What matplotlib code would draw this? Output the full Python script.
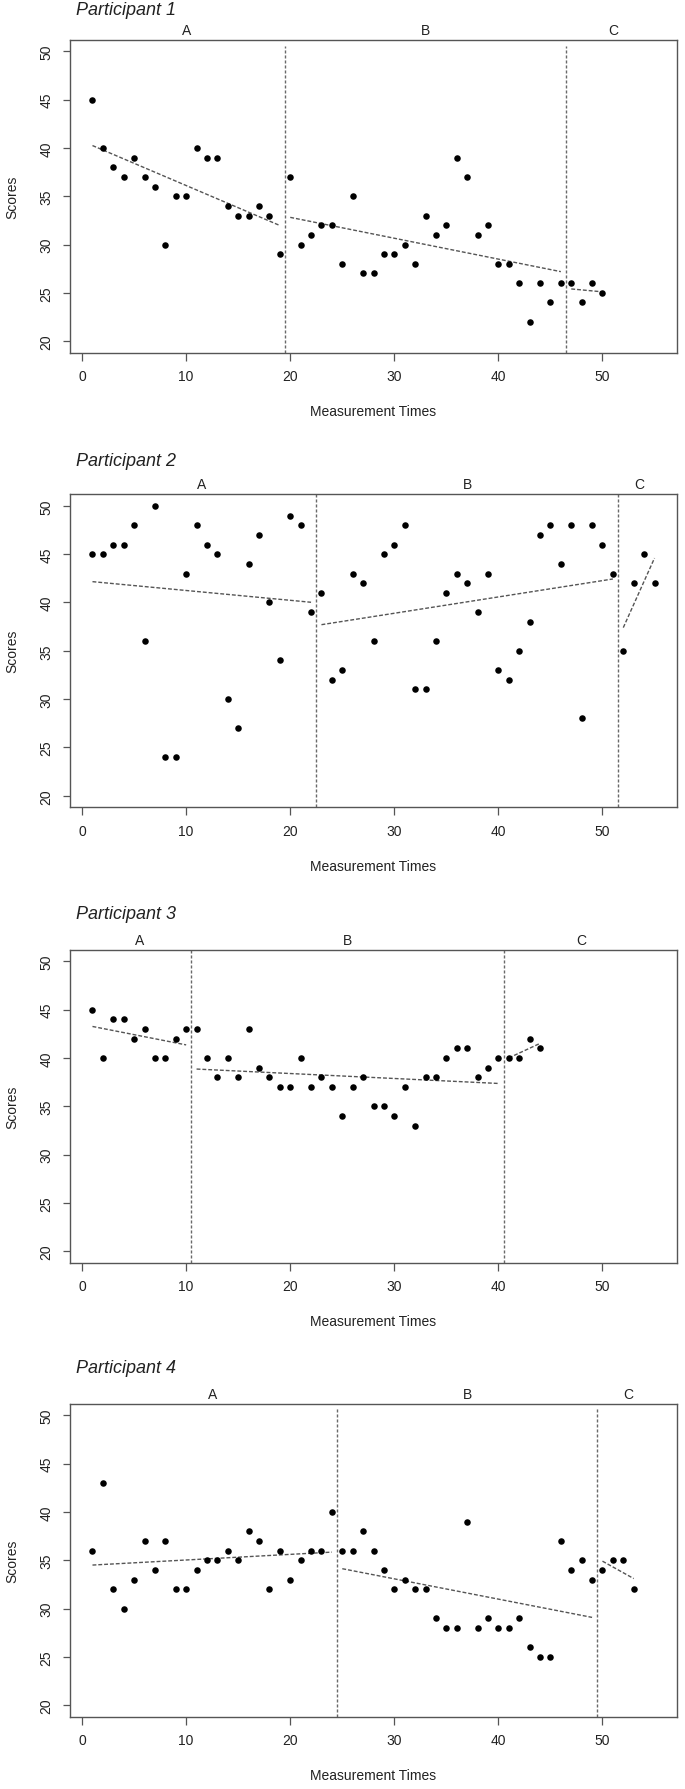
import numpy as np
import matplotlib
matplotlib.use('Agg')
import matplotlib.pyplot as plt

plt.rcParams['font.family'] = ['Liberation Sans', 'DejaVu Sans']

# scores per participant, one value per measurement time (1, 2, 3, ...)
p1_scores = [45, 40, 38, 37, 39, 37, 36, 30, 35, 35, 40, 39, 39, 34, 33, 33, 34, 33, 29,
             37, 30, 31, 32, 32, 28, 35, 27, 27, 29, 29, 30, 28, 33, 31, 32, 39, 37, 31, 32,
             28, 28, 26, 22, 26, 24, 26, 26, 24, 26, 25]
p2_scores = [45, 45, 46, 46, 48, 36, 50, 24, 24, 43, 48, 46, 45, 30, 27, 44, 47, 40, 34, 49,
             48, 39, 41, 32, 33, 43, 42, 36, 45, 46, 48, 31, 31, 36, 41, 43, 42, 39, 43, 33,
             32, 35, 38, 47, 48, 44, 48, 28, 48, 46, 43, 35, 42, 45, 42]
p3_scores = [45, 40, 44, 44, 42, 43, 40, 40, 42, 43, 43, 40, 38, 40, 38, 43, 39, 38, 37, 37,
             40, 37, 38, 37, 34, 37, 38, 35, 35, 34, 37, 33, 38, 38, 40, 41, 41, 38, 39, 40,
             40, 40, 42, 41]
p4_scores = [36, 43, 32, 30, 33, 37, 34, 37, 32, 32, 34, 35, 35, 36, 35, 38, 37, 32, 36, 33,
             35, 36, 36, 40, 36, 36, 38, 36, 34, 32, 33, 32, 32, 29, 28, 28, 39, 28, 29, 28,
             28, 29, 26, 25, 25, 37, 34, 35, 33, 34, 35, 35, 32]

# phase change points (between measurement times)
p1_breaks = [19.5, 46.5]
p2_breaks = [22.5, 51.5]
p3_breaks = [10.5, 40.5]
p4_breaks = [24.5, 49.5]

phase_names = ['A', 'B', 'C']
titles = ['Participant 1', 'Participant 2', 'Participant 3', 'Participant 4']
break_tops = [50.5, 51.2, 51.2, 50.8]

all_scores = [p1_scores, p2_scores, p3_scores, p4_scores]
all_breaks = [p1_breaks, p2_breaks, p3_breaks, p4_breaks]

W, H = 685, 1790
fig = plt.figure(figsize=(W / 100, H / 100), dpi=100)

box_left, box_right = 70, 677
box_tops = [40.7, 495.3, 950.7, 1404.7]
title_gap = [30, 33.5, 36.5, 36.5]
box_h = 313

grey = '#555555'
txt = '#222222'

for i in range(4):
    top = box_tops[i]
    ax = fig.add_axes([box_left / W, 1 - (top + box_h) / H,
                       (box_right - box_left) / W, box_h / H])
    y = np.array(all_scores[i])
    x = np.arange(1, len(y) + 1)
    brk = all_breaks[i]

    ax.set_xlim(-1.16, 57.16)
    ax.set_ylim(18.8, 51.2)

    # phase boundaries
    for b in brk:
        ax.plot([b, b], [18.8, break_tops[i]], color='#6a6a6a', lw=1.0,
                ls=(0, (2.2, 1.4)))

    # trend line per phase (least squares)
    edges = [0.5] + brk + [x[-1] + 0.5]
    for k in range(3):
        m = (x > edges[k]) & (x < edges[k + 1])
        xs, ys = x[m], y[m]
        slope, icpt = np.polyfit(xs, ys, 1)
        ax.plot([xs[0], xs[-1]], [icpt + slope * xs[0], icpt + slope * xs[-1]],
                color=grey, lw=1.0, ls=(0, (2.8, 1.4)))

    ax.plot(x, y, 'o', color='black', markersize=4.7, markeredgewidth=0)

    # phase labels above the box
    centers = [(0.5 + brk[0]) / 2, (brk[0] + brk[1]) / 2, (brk[1] + 55.5) / 2]
    for c, name in zip(centers, phase_names):
        ax.text(c, 1 + 3 / box_h, name, transform=ax.get_xaxis_transform(),
                ha='center', va='bottom', fontsize=10, color=txt)

    ax.text(6 / (box_right - box_left), 1 + title_gap[i] / box_h, titles[i],
            transform=ax.transAxes, ha='left', va='center', fontsize=13,
            style='italic', color=txt)

    ax.set_xticks([0, 10, 20, 30, 40, 50])
    ax.set_yticks([20, 25, 30, 35, 40, 45, 50])
    for lab in ax.get_yticklabels():
        lab.set_rotation(90)
        lab.set_va('center')
    ax.tick_params(direction='out', length=5.4, width=0.9, color=grey,
                   labelsize=10, labelcolor=txt, pad=6.5)
    for s in ax.spines.values():
        s.set_color(grey)
        s.set_linewidth(1.0)

    ax.set_xlabel('Measurement Times', fontsize=10, color=txt)
    ax.set_ylabel('Scores', fontsize=10, color=txt)
    ax.xaxis.set_label_coords(0.5, -58.7 / box_h)
    ax.xaxis.label.set_va('center')
    ax.yaxis.set_label_coords(-57.5 / (box_right - box_left), 0.5)
    ax.yaxis.label.set_va('center')

fig.savefig('out.png', dpi=100)
